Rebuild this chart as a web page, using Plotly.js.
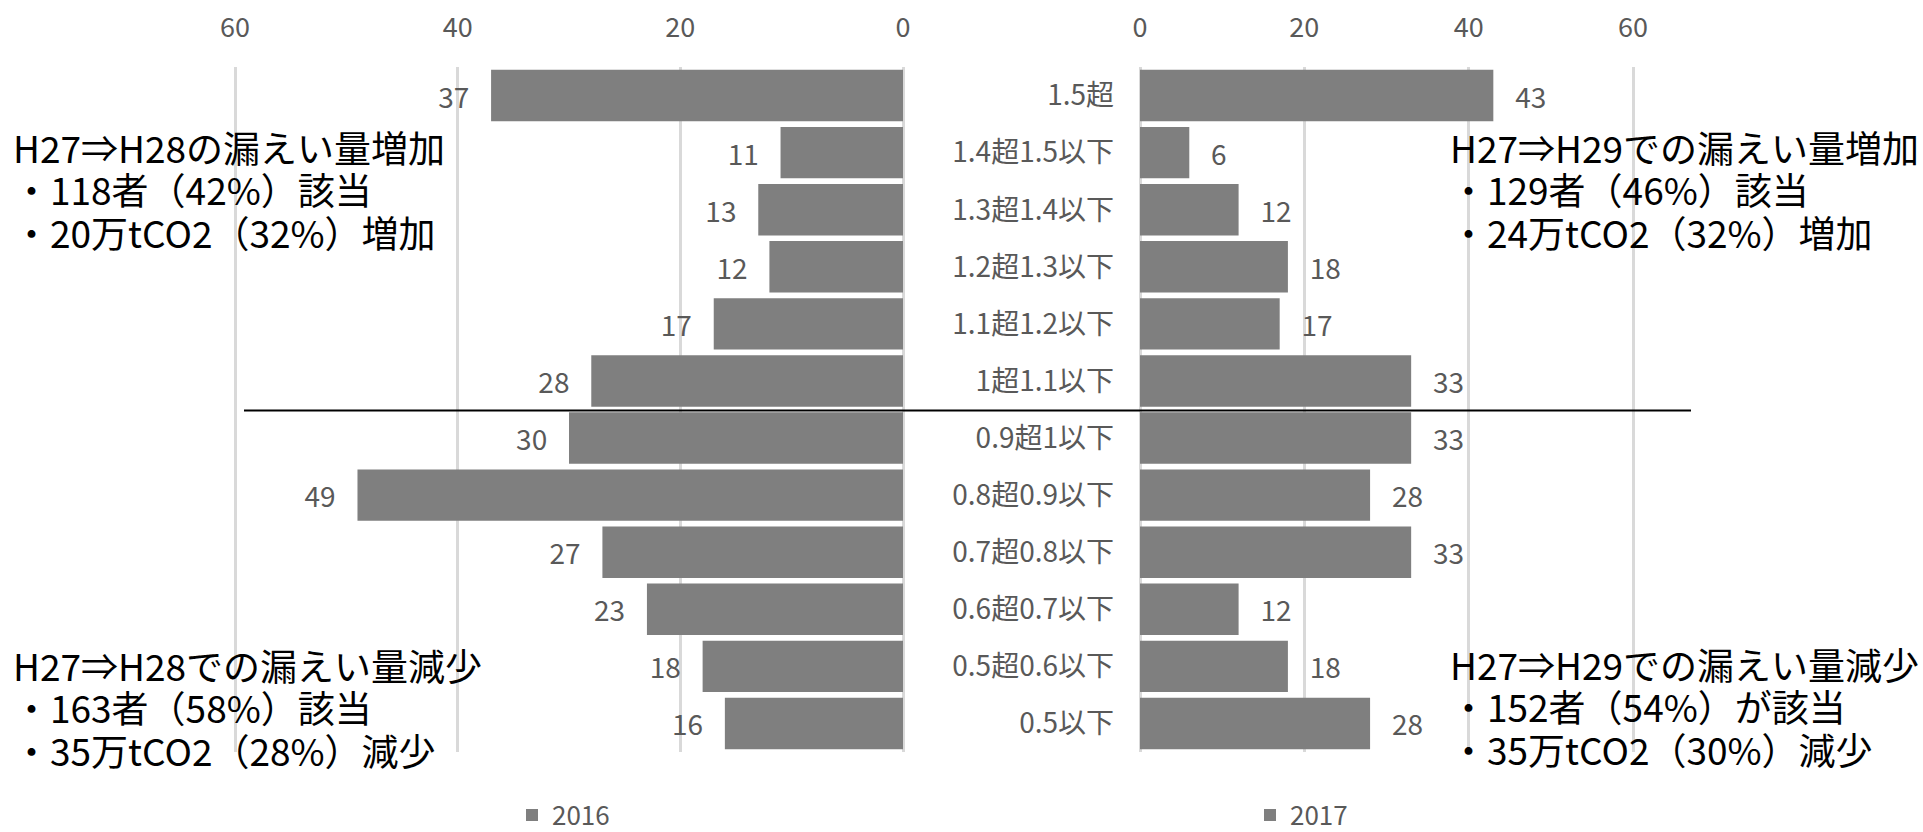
<!DOCTYPE html>
<html>
<head>
<meta charset="utf-8">
<script src="https://cdn.plot.ly/plotly-3.0.1.min.js"></script>
<style>html,body{margin:0;padding:0;background:#fff;}#chart{width:1923px;height:832px;}</style>
</head>
<body>
<div id="chart"></div>
<script>
const categories = ['1.5超','1.4超1.5以下','1.3超1.4以下','1.2超1.3以下','1.1超1.2以下','1超1.1以下',
  '0.9超1以下','0.8超0.9以下','0.7超0.8以下','0.6超0.7以下','0.5超0.6以下','0.5以下'];
const values2016 = [37,11,13,12,17,28,30,49,27,23,18,16];
const values2017 = [43,6,12,18,17,33,33,28,33,12,18,28];
const xTicks = [0,20,40,60];
const seriesNames = ['2016','2017'];
const noteTopLeft = ['H27⇒H28の漏えい量増加','・118者（42%）該当','・20万tCO2（32%）増加'];
const noteTopRight = ['H27⇒H29での漏えい量増加','・129者（46%）該当','・24万tCO2（32%）増加'];
const noteBottomLeft = ['H27⇒H28での漏えい量減少','・163者（58%）該当','・35万tCO2（28%）減少'];
const noteBottomRight = ['H27⇒H29での漏えい量減少','・152者（54%）が該当','・35万tCO2（30%）減少'];

const W = 1923, H = 832;
const FONT = '"Noto Sans CJK JP", "Noto Sans", sans-serif';
const GRAY = '#595959';
const BAR = '#7f7f7f';
const pad = '\u00a0\u00a0\u00a0';

const traces = [
  {type:'bar', orientation:'h', name:seriesNames[0], x:values2016, y:categories,
   xaxis:'x', yaxis:'y', legend:'legend',
   marker:{color:BAR, line:{width:0}},
   text:values2016.map(v => v + pad), textposition:'outside', cliponaxis:false,
   constraintext:'none',
   textfont:{family:FONT, size:28, color:GRAY}, hoverinfo:'skip'},
  {type:'bar', orientation:'h', name:seriesNames[1], x:values2017, y:categories,
   xaxis:'x2', yaxis:'y2', legend:'legend2',
   marker:{color:BAR, line:{width:0}},
   text:values2017.map(v => pad + v), textposition:'outside', cliponaxis:false,
   constraintext:'none',
   textfont:{family:FONT, size:28, color:GRAY}, hoverinfo:'skip'}
];

const yDom = [1 - 752/H, 1 - 67/H];
const axisCommon = {
  side:'top', tickvals:xTicks, ticktext:xTicks.map(String), showgrid:true, gridcolor:'#d9d9d9', gridwidth:3,
  zeroline:false, showline:false, ticks:'', tickfont:{family:FONT, size:27, color:GRAY},
  ticklabelstandoff:24, fixedrange:true
};

// one annotation per block; base font sets the line pitch, inner span sets glyph size
const note = (lines, x, yCenter) => ({
  text:lines.map(t => '<span style="font-size:37px">' + t + '</span>').join('<br>'),
  xref:'paper', yref:'paper', x:x/W, y:1 - yCenter/H, xanchor:'left', yanchor:'middle',
  align:'left', showarrow:false, borderpad:0,
  font:{family:FONT, size:32.5, color:'#000000'}
});

const layout = {
  width:W, height:H, margin:{l:0, r:0, t:0, b:0, autoexpand:false},
  paper_bgcolor:'#ffffff', plot_bgcolor:'rgba(0,0,0,0)',
  font:{family:FONT, color:GRAY},
  bargap:0.1,
  showlegend:true,
  xaxis:Object.assign({}, axisCommon, {domain:[200/W, 906/W], range:[(903-200)/11.133, -3/11.133], anchor:'y'}),
  xaxis2:Object.assign({}, axisCommon, {domain:[1137/W, 1720/W], range:[-3/8.217, (1720-1140)/8.217], anchor:'y2'}),
  yaxis:{domain:yDom, anchor:'x', type:'category', autorange:'reversed', showticklabels:false,
         showgrid:false, zeroline:false, ticks:'', fixedrange:true},
  yaxis2:{domain:yDom, anchor:'x2', type:'category', autorange:'reversed', showticklabels:true,
          showgrid:false, zeroline:false, ticks:'', ticklabelstandoff:22,
          tickfont:{family:FONT, size:28, color:GRAY}, fixedrange:true},
  legend:{x:512/W, y:1 - 815/H, xanchor:'left', yanchor:'middle', orientation:'h',
          bgcolor:'rgba(0,0,0,0)', font:{family:FONT, size:26, color:GRAY}},
  legend2:{x:1250/W, y:1 - 815/H, xanchor:'left', yanchor:'middle', orientation:'h',
          bgcolor:'rgba(0,0,0,0)', font:{family:FONT, size:26, color:GRAY}},
  shapes:[{type:'line', xref:'paper', yref:'paper', x0:244/W, x1:1691/W, y0:1 - 410.5/H, y1:1 - 410.5/H,
           line:{color:'#000000', width:2}}],
  annotations:[
    note(noteTopLeft, 12, 189),
    note(noteTopRight, 1449, 189),
    note(noteBottomLeft, 12, 707),
    note(noteBottomRight, 1449, 706)
  ]
};

Plotly.newPlot('chart', traces, layout, {displayModeBar:false, staticPlot:true});
</script>
</body>
</html>
